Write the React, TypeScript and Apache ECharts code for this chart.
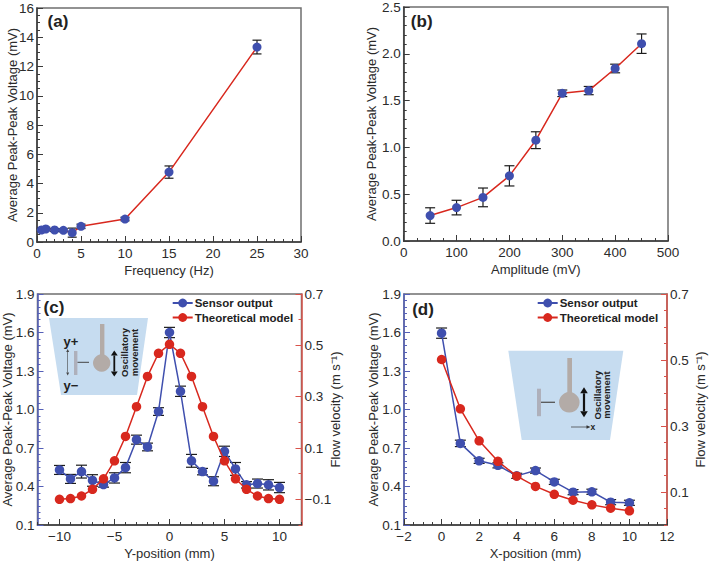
import React, { useEffect, useRef } from "react";
import * as echarts from "echarts";

const aX = [0.5, 1, 2, 3, 4, 5, 10, 15, 25];
const aY = [0.82, 0.89, 0.82, 0.8, 0.64, 1.07, 1.57, 4.78, 13.33];
const aErr = [0.1, 0.12, 0.1, 0.1, 0.31, 0.15, 0.12, 0.42, 0.47];

const bX = [50, 100, 150, 200, 250, 300, 350, 400, 450];
const bY = [0.272, 0.357, 0.466, 0.696, 1.077, 1.578, 1.607, 1.843, 2.108];
const bErr = [0.083, 0.078, 0.1, 0.108, 0.09, 0.035, 0.044, 0.046, 0.104];

const cX = [-10, -9, -8, -7, -6, -5, -4, -3, -2, -1, 0, 1, 2, 3, 4, 5, 6, 7, 8, 9, 10];
const cSensor = [0.529, 0.459, 0.516, 0.447, 0.415, 0.467, 0.547, 0.765, 0.708, 0.984, 1.6, 1.142, 0.6, 0.516, 0.441, 0.674, 0.537, 0.413, 0.423, 0.413, 0.392];
const cErr = [0.035, 0.035, 0.05, 0.045, 0.02, 0.04, 0.04, 0.035, 0.03, 0.03, 0.04, 0.04, 0.05, 0.025, 0.035, 0.04, 0.05, 0.025, 0.035, 0.04, 0.04];
const cModel = [-0.1, -0.097, -0.087, -0.061, -0.02, 0.05, 0.145, 0.261, 0.379, 0.469, 0.504, 0.469, 0.379, 0.261, 0.145, 0.05, -0.02, -0.061, -0.087, -0.097, -0.1];

const dX = [0, 1, 2, 3, 4, 5, 6, 7, 8, 9, 10];
const dSensor = [1.595, 0.736, 0.6, 0.565, 0.483, 0.524, 0.436, 0.356, 0.359, 0.278, 0.273];
const dErr = [0.04, 0.025, 0.02, 0.02, 0.02, 0.02, 0.02, 0.02, 0.02, 0.02, 0.02];
const dModel = [0.5015, 0.352, 0.255, 0.193, 0.148, 0.117, 0.093, 0.075, 0.061, 0.051, 0.043];

const aXTicks = [0, 5, 10, 15, 20, 25, 30];
const aYTicks = [0, 2, 4, 6, 8, 10, 12, 14, 16];
const bXTicks = [0, 100, 200, 300, 400, 500];
const bYTicks = [0, 0.5, 1, 1.5, 2, 2.5];
const cXTicks = [-10, -5, 0, 5, 10];
const dXTicks = [-2, 0, 2, 4, 6, 8, 10, 12];
const lowerYTicks = [0.1, 0.4, 0.7, 1.0, 1.3, 1.6, 1.9];
const rightTicks = [-0.1, 0.1, 0.3, 0.5, 0.7];
const sensorName = "Sensor output";
const modelName = "Theoretical model";

const FONT = "Liberation Sans";
const TEXT = "#2b2b2b";
const DARK = "#3a3a3a";
const BLUE = "#3f4fae";
const BLUE_AXIS = "#5560b8";
const RED = "#d8281e";
const RED_AXIS = "#d9534a";
const WATER = "#c6dcf0";
const PROBE = "#b3aba7";
const GREY_T = "#aeb0bb";

const steps = (lo: number, hi: number, step: number) => {
  const out: number[] = [];
  const n = Math.round((hi - lo) / step);
  for (let i = 0; i <= n; i++) out.push(+(lo + i * step).toFixed(4));
  return out;
};

const fmt = (d: number) => (v: number) => {
  const s = Math.abs(v).toFixed(d);
  return v < -1e-9 ? "\u2212" + s : s;
};

function axisPair(opts: any) {
  const { grid, dim, position, min, max, ticks, minorStep, decimals, name, nameGap, color, margin, tickLen } = opts;
  const nameBlock = name
    ? {
        name,
        nameLocation: "middle",
        nameGap,
        nameMoveOverlap: false,
        nameRotate: dim === "y" ? 90 : 0,
        nameTextStyle: { fontFamily: FONT, fontSize: 13, color: TEXT },
      }
    : {};
  const base = { gridIndex: grid, position, type: "value", min, max, offset: 0, splitLine: { show: false } };
  return [
    {
      ...base,
      ...nameBlock,
      axisLine: { show: true, onZero: false, lineStyle: { color, width: 1.5 } },
      axisTick: { show: true, inside: true, length: tickLen ?? 6, customValues: ticks, lineStyle: { color, width: 1 } },
      axisLabel: {
        show: true,
        customValues: ticks,
        margin: margin ?? 3,
        hideOverlap: false,
        formatter: fmt(decimals),
        fontFamily: FONT,
        fontSize: 13.5,
        color: TEXT,
      },
    },
    {
      ...base,
      axisLine: { show: false, onZero: false },
      axisLabel: { show: false },
      axisTick: { show: true, inside: true, length: 3, customValues: steps(min, max, minorStep), lineStyle: { color, width: 1 } },
    },
  ];
}

function errorSeries(xs: number[], ys: number[], errs: number[], xi: number, yi: number, cap: number) {
  return {
    type: "custom",
    xAxisIndex: xi,
    yAxisIndex: yi,
    z: 2,
    silent: true,
    data: xs.map((x, i) => [x, ys[i], errs[i]]),
    encode: { x: 0, y: 1 },
    renderItem: (_: any, api: any) => {
      const hi = api.coord([api.value(0), api.value(1) + api.value(2)]);
      const lo = api.coord([api.value(0), api.value(1) - api.value(2)]);
      const style = { stroke: "#1c1c1c", lineWidth: 1.2, fill: "none" };
      const line = (x1: number, y1: number, x2: number, y2: number) => ({ type: "line", shape: { x1, y1, x2, y2 }, style });
      return {
        type: "group",
        children: [
          line(hi[0], hi[1], lo[0], lo[1]),
          line(hi[0] - cap, hi[1], hi[0] + cap, hi[1]),
          line(lo[0] - cap, lo[1], lo[0] + cap, lo[1]),
        ],
      };
    },
  };
}

function lineSeries(name: string | undefined, xs: number[], ys: number[], xi: number, yi: number, color: string, lineColor: string, size: number, z: number) {
  return {
    type: "line",
    name,
    xAxisIndex: xi,
    yAxisIndex: yi,
    z,
    data: xs.map((x, i) => [x, ys[i]]),
    symbol: "circle",
    symbolSize: size,
    itemStyle: { color },
    lineStyle: { color: lineColor, width: 1.5 },
  };
}

function doubleArrow(x: number, y1: number, y2: number, width: number, head: number, half: number, color: string) {
  return [
    { type: "rect", z: 10, shape: { x: x - width / 2, y: y1 + head, width, height: y2 - y1 - 2 * head }, style: { fill: color } },
    { type: "polygon", z: 10, shape: { points: [[x, y1], [x - half, y1 + head], [x + half, y1 + head]] }, style: { fill: color } },
    { type: "polygon", z: 10, shape: { points: [[x, y2], [x - half, y2 - head], [x + half, y2 - head]] }, style: { fill: color } },
  ];
}

const txt = (text: string, x: number, y: number, size: number, bold = true, rotation = 0) => ({
  type: "text",
  z: 11,
  x,
  y,
  rotation,
  style: {
    text,
    fontFamily: FONT,
    fontSize: size,
    fontWeight: bold ? "bold" : "normal",
    fill: "#222222",
    align: "center",
    verticalAlign: "middle",
  },
});

const rot = Math.PI / 2;

const graphics = [
  txt("(a)", 58, 21, 17),
  txt("(b)", 421.7, 21, 17),
  txt("(c)", 54, 307, 17),
  txt("(d)", 423, 309, 17),
  // inset c
  { type: "polygon", z: 9, shape: { points: [[49, 318], [148, 318], [137, 395], [61, 395]] }, style: { fill: WATER } },
  { type: "rect", z: 10, shape: { x: 100, y: 324, width: 4.4, height: 34 }, style: { fill: PROBE } },
  { type: "circle", z: 10, shape: { cx: 101.7, cy: 363, r: 8.7 }, style: { fill: PROBE } },
  { type: "rect", z: 10, shape: { x: 74, y: 351, width: 3.4, height: 24 }, style: { fill: GREY_T } },
  { type: "line", z: 10, shape: { x1: 77.5, y1: 362.3, x2: 89, y2: 362.3 }, style: { stroke: "#444444", lineWidth: 1 } },
  ...doubleArrow(114.3, 350.5, 376.5, 1.8, 5, 3.4, "#111111"),
  ...doubleArrow(67.7, 349, 375.5, 0.6, 3, 1.5, "#444444"),
  txt("y+", 71, 341, 13),
  txt("y\u2212", 71, 385, 13),
  txt("Oscillatory", 124.7, 352.5, 9.5, true, rot),
  txt("movement", 134.3, 352.5, 9.5, true, rot),
  // inset d
  { type: "polygon", z: 9, shape: { points: [[508.3, 350.7], [623.3, 350.7], [610, 440], [521.7, 440]] }, style: { fill: WATER } },
  { type: "rect", z: 10, shape: { x: 567.3, y: 358, width: 4.7, height: 36 }, style: { fill: PROBE } },
  { type: "circle", z: 10, shape: { cx: 569.3, cy: 402.3, r: 10.3 }, style: { fill: PROBE } },
  { type: "rect", z: 10, shape: { x: 537, y: 388.7, width: 4, height: 27.5 }, style: { fill: GREY_T } },
  { type: "line", z: 10, shape: { x1: 541, y1: 402.3, x2: 555, y2: 402.3 }, style: { stroke: "#555555", lineWidth: 1.3 } },
  ...doubleArrow(584, 387.3, 417.3, 2.2, 6, 3.8, "#111111"),
  { type: "line", z: 10, shape: { x1: 571, y1: 427, x2: 588, y2: 427 }, style: { stroke: "#333333", lineWidth: 0.7 } },
  { type: "polygon", z: 10, shape: { points: [[590.5, 427], [586.5, 425.3], [586.5, 428.7]] }, style: { fill: "#333333" } },
  txt("x", 592.8, 427, 8.5),
  txt("Oscillatory", 597, 395, 9.5, true, rot),
  txt("movement", 606.7, 395, 9.5, true, rot),
];

const grids = [
  { left: 37, top: 8, width: 264, height: 234 },
  { left: 403.7, top: 5.5, width: 264.3, height: 235.5 },
  { left: 37.5, top: 294, width: 264, height: 232 },
  { left: 404, top: 294, width: 263, height: 232 },
];
const gridStyle = { show: true, borderColor: "#6f6f6f", borderWidth: 1.5, backgroundColor: "transparent" };

// Axis order matters: every panel contributes a major axis followed by a hidden minor-tick axis.
const xAxes = [
  ...axisPair({ grid: 0, dim: "x", position: "bottom", min: 0, max: 30, ticks: aXTicks, minorStep: 1, decimals: 0, name: "Frequency (Hz)", nameGap: 21.5, color: DARK, margin: 4 }),
  ...axisPair({ grid: 1, dim: "x", position: "bottom", min: 0, max: 500, ticks: bXTicks, minorStep: 25, decimals: 0, name: "Amplitude (mV)", nameGap: 22, color: DARK, margin: 4 }),
  ...axisPair({ grid: 2, dim: "x", position: "bottom", min: -12, max: 12, ticks: cXTicks, minorStep: 1, decimals: 0, name: "Y-position (mm)", nameGap: 22, color: DARK, margin: 4 }),
  ...axisPair({ grid: 3, dim: "x", position: "bottom", min: -2, max: 12, ticks: dXTicks, minorStep: 0.5, decimals: 0, name: "X-position (mm)", nameGap: 22, color: DARK, margin: 4 }),
];
const yAxes = [
  ...axisPair({ grid: 0, dim: "y", position: "left", min: 0, max: 16, ticks: aYTicks, minorStep: 0.5, decimals: 0, name: "Average Peak-Peak Voltage (mV)", nameGap: 18.5, color: DARK }),
  ...axisPair({ grid: 1, dim: "y", position: "left", min: 0, max: 2.5, ticks: bYTicks, minorStep: 0.1, decimals: 1, name: "Average Peak-Peak Voltage (mV)", nameGap: 25.5, color: DARK }),
  ...axisPair({ grid: 2, dim: "y", position: "left", min: 0.1, max: 1.9, ticks: lowerYTicks, minorStep: 0.05, decimals: 1, name: "Average Peak-Peak Voltage (mV)", nameGap: 23.5, color: BLUE_AXIS }),
  ...axisPair({ grid: 2, dim: "y", position: "right", min: -0.2, max: 0.7, ticks: rightTicks, minorStep: 0.1, decimals: 1, name: "Flow velocity (m s\u207B\u00B9)", nameGap: 27, color: RED_AXIS }),
  ...axisPair({ grid: 3, dim: "y", position: "left", min: 0.1, max: 1.9, ticks: lowerYTicks, minorStep: 0.05, decimals: 1, name: "Average Peak-Peak Voltage (mV)", nameGap: 24.5, color: BLUE_AXIS }),
  ...axisPair({ grid: 3, dim: "y", position: "right", min: 0, max: 0.7, ticks: rightTicks.slice(1), minorStep: 0.05, decimals: 1, name: "Flow velocity (m s\u207B\u00B9)", nameGap: 26.5, color: RED_AXIS }),
];

const legendBase = {
  orient: "vertical",
  itemGap: 2.5,
  itemWidth: 20,
  itemHeight: 11,
  data: [sensorName, modelName],
  selectedMode: false,
  padding: 0,
  textStyle: { fontFamily: FONT, fontSize: 11.5, fontWeight: "bold", color: "#222222", padding: [0, 0, 0, -3] },
};

export default function App() {
  const ref = useRef<HTMLDivElement>(null);
  useEffect(() => {
    if (!ref.current) return;
    const chart = echarts.init(ref.current, undefined, { renderer: "svg" });
    chart.setOption({
      animation: false,
      backgroundColor: "#ffffff",
      grid: grids.map((g) => ({ ...g, ...gridStyle })),
      xAxis: xAxes,
      yAxis: yAxes,
      legend: [
        { ...legendBase, left: 171.7, top: 297 },
        { ...legendBase, left: 536.7, top: 297 },
      ],
      series: [
        errorSeries(aX, aY, aErr, 0, 0, 4.5),
        lineSeries(undefined, aX, aY, 0, 0, BLUE, RED, 9, 3),
        errorSeries(bX, bY, bErr, 2, 2, 5),
        lineSeries(undefined, bX, bY, 2, 2, BLUE, RED, 9, 3),
        errorSeries(cX, cSensor, cErr, 4, 4, 5.5),
        lineSeries(sensorName, cX, cSensor, 4, 4, BLUE, BLUE, 9.5, 3),
        lineSeries(modelName, cX, cModel, 4, 6, RED, RED, 9.5, 4),
        errorSeries(dX, dSensor, dErr, 6, 8, 5.5),
        lineSeries(sensorName, dX, dSensor, 6, 8, BLUE, BLUE, 9.5, 3),
        lineSeries(modelName, dX, dModel, 6, 10, RED, RED, 9.5, 4),
      ],
      graphic: { elements: graphics },
    });
    return () => chart.dispose();
  }, []);
  return <div ref={ref} style={{ position: "absolute", left: 0, top: 0, width: 709, height: 561 }} />;
}
